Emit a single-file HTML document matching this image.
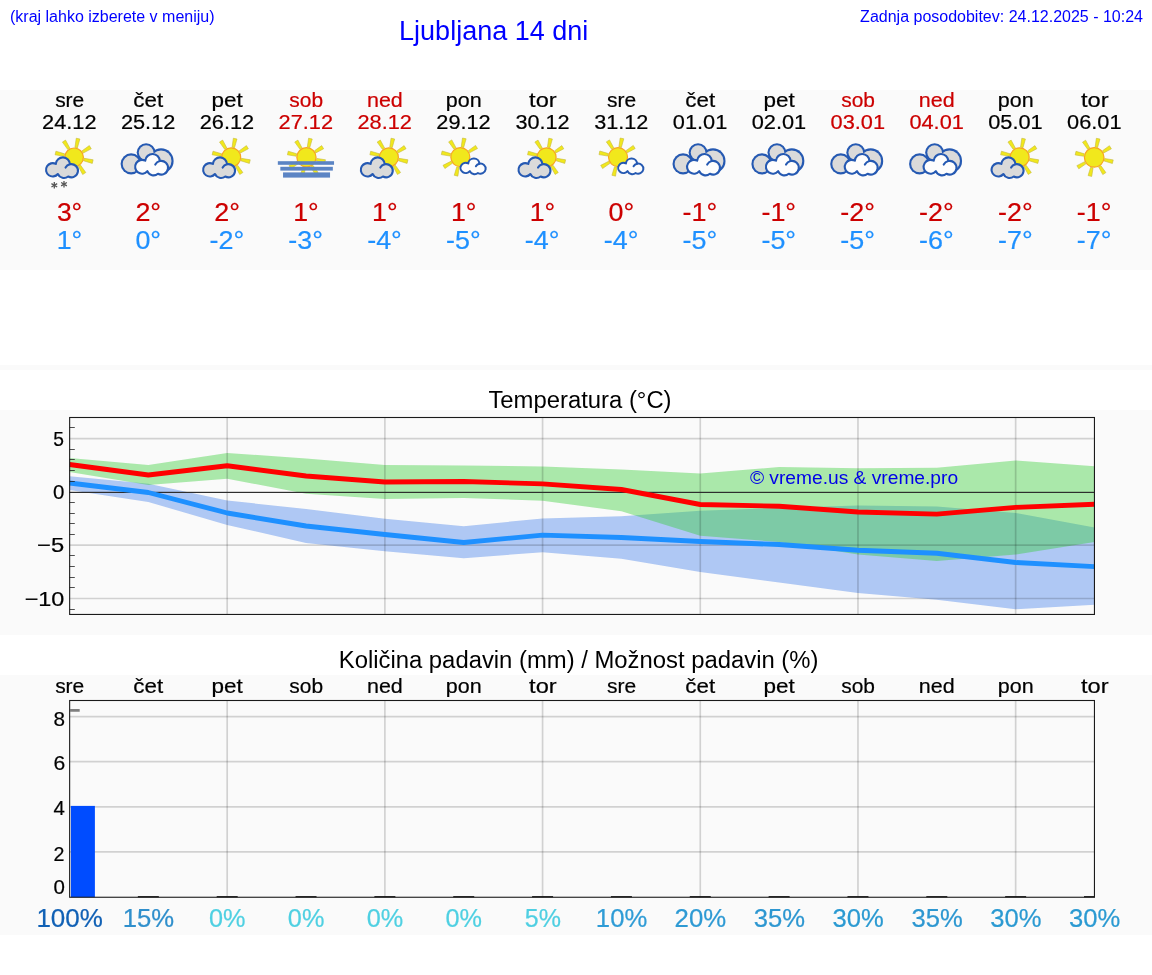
<!DOCTYPE html>
<html><head><meta charset="utf-8"><title>Ljubljana 14 dni</title>
<style>
html,body{margin:0;padding:0;background:#fff;}
body{width:1152px;height:975px;position:relative;overflow:hidden;font-family:"Liberation Sans",sans-serif;}
.h{position:absolute;color:#0000ff;white-space:nowrap;font-size:16px;line-height:18px;}
#t{position:absolute;left:393.7px;width:200px;top:15.5px;text-align:center;color:#0000ff;font-size:27px;line-height:31px;white-space:nowrap;}
svg{position:absolute;left:0;top:0;}
#w{position:absolute;left:0;top:0;width:1152px;height:975px;will-change:transform;}
</style></head><body><div id="w">
<svg width="1152" height="975" viewBox="0 0 1152 975">
<rect x="0" y="90" width="1152" height="180" fill="#fafafa"/>
<rect x="0" y="365" width="1152" height="5" fill="#fafafa"/>
<rect x="0" y="410" width="1152" height="225" fill="#fafafa"/>
<rect x="0" y="675" width="1152" height="260" fill="#fafafa"/>
<text x="0" y="0" transform="translate(69.69,107.00) scale(1.0778,1.0550)" font-family="'Liberation Sans', sans-serif" font-size="19.44" fill="#000" stroke="#000" stroke-width="0.2" text-anchor="middle">sre</text>
<text x="0" y="0" transform="translate(69.27,129.20) scale(1.1185,1.0584)" font-family="'Liberation Sans', sans-serif" font-size="19.44" fill="#000" stroke="#000" stroke-width="0.2" text-anchor="middle">24.12</text>
<polygon points="77.38,147.88 79.88,139.00 76.26,138.23 74.94,147.36" fill="#f1e81c" stroke="#c4b83c" stroke-width="0.6" stroke-linejoin="round"/><polygon points="83.16,153.11 91.28,148.75 89.32,145.61 81.83,150.99" fill="#f1e81c" stroke="#c4b83c" stroke-width="0.6" stroke-linejoin="round"/><polygon points="83.47,160.74 92.29,163.40 93.13,159.79 84.03,158.31" fill="#f1e81c" stroke="#c4b83c" stroke-width="0.6" stroke-linejoin="round"/><polygon points="78.29,166.36 82.65,174.48 85.79,172.52 80.41,165.03" fill="#f1e81c" stroke="#c4b83c" stroke-width="0.6" stroke-linejoin="round"/><polygon points="64.73,153.86 55.91,151.20 55.07,154.81 64.17,156.29" fill="#f1e81c" stroke="#c4b83c" stroke-width="0.6" stroke-linejoin="round"/><polygon points="69.91,148.24 65.55,140.12 62.41,142.08 67.79,149.57" fill="#f1e81c" stroke="#c4b83c" stroke-width="0.6" stroke-linejoin="round"/><circle cx="74.10" cy="157.30" r="9.3" fill="#f1e81c" stroke="#f7a620" stroke-width="1.2"/><path d="M57.87,174.00 A6.67,6.67 0 1 1 55.82,163.92 A7.08,7.08 0 0 1 69.96,164.27 A6.60,6.60 0 1 1 68.16,176.47 A6.60,6.60 0 0 1 57.87,174.00 Z" fill="#dadada" stroke="#2559b2" stroke-width="2.1" stroke-linejoin="round"/><path d="M69.96,164.27 A6.60,6.60 0 0 0 65.55,167.61" fill="none" stroke="#2559b2" stroke-width="2.1" stroke-linecap="round"/><line x1="54.30" y1="182.00" x2="54.30" y2="188.60" stroke="#555" stroke-width="1.3"/><line x1="51.44" y1="183.65" x2="57.16" y2="186.95" stroke="#555" stroke-width="1.3"/><line x1="57.16" y1="183.65" x2="51.44" y2="186.95" stroke="#555" stroke-width="1.3"/><line x1="64.00" y1="180.90" x2="64.00" y2="187.50" stroke="#555" stroke-width="1.3"/><line x1="61.14" y1="182.55" x2="66.86" y2="185.85" stroke="#555" stroke-width="1.3"/><line x1="66.86" y1="182.55" x2="61.14" y2="185.85" stroke="#555" stroke-width="1.3"/>
<text x="0" y="0" transform="translate(69.55,220.80) scale(1.1219,1.0542)" font-family="'Liberation Sans', sans-serif" font-size="23.61" fill="#cc0000" stroke="#cc0000" stroke-width="0.2" text-anchor="middle">3°</text>
<text x="0" y="0" transform="translate(69.44,249.00) scale(1.1326,1.0606)" font-family="'Liberation Sans', sans-serif" font-size="23.61" fill="#1e90ff" stroke="#1e90ff" stroke-width="0.2" text-anchor="middle">1°</text>
<text x="0" y="0" transform="translate(148.23,107.00) scale(1.1525,1.0550)" font-family="'Liberation Sans', sans-serif" font-size="19.44" fill="#000" stroke="#000" stroke-width="0.2" text-anchor="middle">čet</text>
<text x="0" y="0" transform="translate(148.12,129.20) scale(1.1185,1.0584)" font-family="'Liberation Sans', sans-serif" font-size="19.44" fill="#000" stroke="#000" stroke-width="0.2" text-anchor="middle">25.12</text>
<circle cx="131.15" cy="163.90" r="10.55" fill="#2559b2"/><circle cx="146.15" cy="152.60" r="9.45" fill="#2559b2"/><circle cx="161.05" cy="160.90" r="12.55" fill="#2559b2"/><circle cx="131.15" cy="163.90" r="8.45" fill="#dadada"/><circle cx="146.15" cy="152.60" r="7.35" fill="#dadada"/><circle cx="161.05" cy="160.90" r="10.45" fill="#dadada"/><circle cx="148.35" cy="163.30" r="8" fill="#dadada"/><path d="M147.35,171.18 A6.87,6.93 0 1 1 145.24,160.69 A7.30,7.37 0 0 1 159.80,161.05 A6.80,6.86 0 1 1 157.95,173.75 A6.80,6.86 0 0 1 147.35,171.18 Z" fill="#fdfdfd" stroke="#2559b2" stroke-width="2.1" stroke-linejoin="round"/><path d="M159.80,161.05 A6.80,6.86 0 0 0 155.26,164.54" fill="none" stroke="#2559b2" stroke-width="2.1" stroke-linecap="round"/>
<text x="0" y="0" transform="translate(148.23,220.80) scale(1.1386,1.0606)" font-family="'Liberation Sans', sans-serif" font-size="23.61" fill="#cc0000" stroke="#cc0000" stroke-width="0.2" text-anchor="middle">2°</text>
<text x="0" y="0" transform="translate(148.25,249.00) scale(1.1373,1.0667)" font-family="'Liberation Sans', sans-serif" font-size="23.61" fill="#1e90ff" stroke="#1e90ff" stroke-width="0.2" text-anchor="middle">0°</text>
<text x="0" y="0" transform="translate(227.19,107.00) scale(1.1585,1.0550)" font-family="'Liberation Sans', sans-serif" font-size="19.44" fill="#000" stroke="#000" stroke-width="0.2" text-anchor="middle">pet</text>
<text x="0" y="0" transform="translate(226.96,129.20) scale(1.1185,1.0584)" font-family="'Liberation Sans', sans-serif" font-size="19.44" fill="#000" stroke="#000" stroke-width="0.2" text-anchor="middle">26.12</text>
<polygon points="234.51,147.68 236.97,139.00 233.35,138.23 232.07,147.16" fill="#f1e81c" stroke="#c4b83c" stroke-width="0.6" stroke-linejoin="round"/><polygon points="240.42,153.01 248.37,148.75 246.41,145.61 239.10,150.89" fill="#f1e81c" stroke="#c4b83c" stroke-width="0.6" stroke-linejoin="round"/><polygon points="240.75,160.79 249.39,163.40 250.22,159.79 241.31,158.35" fill="#f1e81c" stroke="#c4b83c" stroke-width="0.6" stroke-linejoin="round"/><polygon points="235.48,166.53 239.74,174.48 242.88,172.52 237.60,165.20" fill="#f1e81c" stroke="#c4b83c" stroke-width="0.6" stroke-linejoin="round"/><polygon points="221.63,153.81 213.00,151.20 212.17,154.81 221.07,156.25" fill="#f1e81c" stroke="#c4b83c" stroke-width="0.6" stroke-linejoin="round"/><polygon points="226.90,148.07 222.64,140.12 219.50,142.08 224.78,149.40" fill="#f1e81c" stroke="#c4b83c" stroke-width="0.6" stroke-linejoin="round"/><circle cx="231.19" cy="157.30" r="9.5" fill="#f1e81c" stroke="#f7a620" stroke-width="1.2"/><path d="M214.97,174.00 A6.67,6.67 0 1 1 212.91,163.92 A7.08,7.08 0 0 1 227.05,164.27 A6.60,6.60 0 1 1 225.25,176.47 A6.60,6.60 0 0 1 214.97,174.00 Z" fill="#dadada" stroke="#2559b2" stroke-width="2.1" stroke-linejoin="round"/><path d="M227.05,164.27 A6.60,6.60 0 0 0 222.64,167.61" fill="none" stroke="#2559b2" stroke-width="2.1" stroke-linecap="round"/>
<text x="0" y="0" transform="translate(227.08,220.80) scale(1.1386,1.0606)" font-family="'Liberation Sans', sans-serif" font-size="23.61" fill="#cc0000" stroke="#cc0000" stroke-width="0.2" text-anchor="middle">2°</text>
<text x="0" y="0" transform="translate(226.83,249.00) scale(1.1405,1.0606)" font-family="'Liberation Sans', sans-serif" font-size="23.61" fill="#1e90ff" stroke="#1e90ff" stroke-width="0.2" text-anchor="middle">-2°</text>
<text x="0" y="0" transform="translate(306.19,107.00) scale(1.0763,1.0550)" font-family="'Liberation Sans', sans-serif" font-size="19.44" fill="#cc0000" stroke="#cc0000" stroke-width="0.2" text-anchor="middle">sob</text>
<text x="0" y="0" transform="translate(305.81,129.20) scale(1.1185,1.0584)" font-family="'Liberation Sans', sans-serif" font-size="19.44" fill="#cc0000" stroke="#cc0000" stroke-width="0.2" text-anchor="middle">27.12</text>
<polygon points="309.78,147.58 312.22,139.00 308.60,138.23 307.34,147.06" fill="#f1e81c" stroke="#c4b83c" stroke-width="0.6" stroke-linejoin="round"/><polygon points="315.75,152.95 323.62,148.75 321.66,145.61 314.43,150.83" fill="#f1e81c" stroke="#c4b83c" stroke-width="0.6" stroke-linejoin="round"/><polygon points="316.10,160.81 324.63,163.40 325.47,159.79 316.66,158.38" fill="#f1e81c" stroke="#c4b83c" stroke-width="0.6" stroke-linejoin="round"/><polygon points="310.78,166.61 314.99,174.48 318.13,172.52 312.90,165.29" fill="#f1e81c" stroke="#c4b83c" stroke-width="0.6" stroke-linejoin="round"/><polygon points="302.93,166.96 300.34,175.49 303.94,176.33 305.36,167.52" fill="#f1e81c" stroke="#c4b83c" stroke-width="0.6" stroke-linejoin="round"/><polygon points="297.05,161.48 289.11,165.55 291.02,168.72 298.34,163.62" fill="#f1e81c" stroke="#c4b83c" stroke-width="0.6" stroke-linejoin="round"/><polygon points="296.78,153.79 288.24,151.20 287.41,154.81 296.22,156.22" fill="#f1e81c" stroke="#c4b83c" stroke-width="0.6" stroke-linejoin="round"/><polygon points="302.09,147.99 297.89,140.12 294.75,142.08 299.97,149.31" fill="#f1e81c" stroke="#c4b83c" stroke-width="0.6" stroke-linejoin="round"/><circle cx="306.44" cy="157.30" r="9.6" fill="#f1e81c" stroke="#f7a620" stroke-width="1.2"/><rect x="277.84" y="161.2" width="56.2" height="3.6" fill="#5b84c4"/><rect x="280.34" y="166.8" width="52.5" height="3.8" fill="#5b84c4"/><rect x="283.04" y="172.4" width="47.0" height="5.2" fill="#5b84c4"/>
<text x="0" y="0" transform="translate(305.98,220.80) scale(1.1326,1.0606)" font-family="'Liberation Sans', sans-serif" font-size="23.61" fill="#cc0000" stroke="#cc0000" stroke-width="0.2" text-anchor="middle">1°</text>
<text x="0" y="0" transform="translate(305.68,249.00) scale(1.1405,1.0542)" font-family="'Liberation Sans', sans-serif" font-size="23.61" fill="#1e90ff" stroke="#1e90ff" stroke-width="0.2" text-anchor="middle">-3°</text>
<text x="0" y="0" transform="translate(384.87,107.00) scale(1.1052,1.0550)" font-family="'Liberation Sans', sans-serif" font-size="19.44" fill="#cc0000" stroke="#cc0000" stroke-width="0.2" text-anchor="middle">ned</text>
<text x="0" y="0" transform="translate(384.66,129.20) scale(1.1185,1.0584)" font-family="'Liberation Sans', sans-serif" font-size="19.44" fill="#cc0000" stroke="#cc0000" stroke-width="0.2" text-anchor="middle">28.12</text>
<polygon points="392.21,147.68 394.67,139.00 391.05,138.23 389.76,147.16" fill="#f1e81c" stroke="#c4b83c" stroke-width="0.6" stroke-linejoin="round"/><polygon points="398.11,153.01 406.06,148.75 404.10,145.61 396.79,150.89" fill="#f1e81c" stroke="#c4b83c" stroke-width="0.6" stroke-linejoin="round"/><polygon points="398.44,160.79 407.08,163.40 407.91,159.79 399.01,158.35" fill="#f1e81c" stroke="#c4b83c" stroke-width="0.6" stroke-linejoin="round"/><polygon points="393.18,166.53 397.44,174.48 400.57,172.52 395.30,165.20" fill="#f1e81c" stroke="#c4b83c" stroke-width="0.6" stroke-linejoin="round"/><polygon points="379.32,153.81 370.69,151.20 369.86,154.81 378.76,156.25" fill="#f1e81c" stroke="#c4b83c" stroke-width="0.6" stroke-linejoin="round"/><polygon points="384.59,148.07 380.33,140.12 377.19,142.08 382.47,149.40" fill="#f1e81c" stroke="#c4b83c" stroke-width="0.6" stroke-linejoin="round"/><circle cx="388.88" cy="157.30" r="9.5" fill="#f1e81c" stroke="#f7a620" stroke-width="1.2"/><path d="M372.66,174.00 A6.67,6.67 0 1 1 370.60,163.92 A7.08,7.08 0 0 1 384.74,164.27 A6.60,6.60 0 1 1 382.95,176.47 A6.60,6.60 0 0 1 372.66,174.00 Z" fill="#dadada" stroke="#2559b2" stroke-width="2.1" stroke-linejoin="round"/><path d="M384.74,164.27 A6.60,6.60 0 0 0 380.33,167.61" fill="none" stroke="#2559b2" stroke-width="2.1" stroke-linecap="round"/>
<text x="0" y="0" transform="translate(384.83,220.80) scale(1.1326,1.0606)" font-family="'Liberation Sans', sans-serif" font-size="23.61" fill="#cc0000" stroke="#cc0000" stroke-width="0.2" text-anchor="middle">1°</text>
<text x="0" y="0" transform="translate(384.53,249.00) scale(1.1405,1.0606)" font-family="'Liberation Sans', sans-serif" font-size="23.61" fill="#1e90ff" stroke="#1e90ff" stroke-width="0.2" text-anchor="middle">-4°</text>
<text x="0" y="0" transform="translate(463.78,107.00) scale(1.1069,1.0550)" font-family="'Liberation Sans', sans-serif" font-size="19.44" fill="#000" stroke="#000" stroke-width="0.2" text-anchor="middle">pon</text>
<text x="0" y="0" transform="translate(463.50,129.20) scale(1.1185,1.0584)" font-family="'Liberation Sans', sans-serif" font-size="19.44" fill="#000" stroke="#000" stroke-width="0.2" text-anchor="middle">29.12</text>
<polygon points="463.65,147.48 466.11,138.80 462.49,138.03 461.21,146.96" fill="#f1e81c" stroke="#c4b83c" stroke-width="0.6" stroke-linejoin="round"/><polygon points="469.56,152.81 477.51,148.55 475.55,145.41 468.23,150.69" fill="#f1e81c" stroke="#c4b83c" stroke-width="0.6" stroke-linejoin="round"/><polygon points="456.84,166.66 454.23,175.29 457.84,176.13 459.28,167.22" fill="#f1e81c" stroke="#c4b83c" stroke-width="0.6" stroke-linejoin="round"/><polygon points="451.03,161.23 443.01,165.35 444.91,168.52 452.32,163.37" fill="#f1e81c" stroke="#c4b83c" stroke-width="0.6" stroke-linejoin="round"/><polygon points="450.77,153.61 442.14,151.00 441.30,154.61 450.21,156.05" fill="#f1e81c" stroke="#c4b83c" stroke-width="0.6" stroke-linejoin="round"/><polygon points="456.04,147.87 451.78,139.92 448.64,141.88 453.92,149.20" fill="#f1e81c" stroke="#c4b83c" stroke-width="0.6" stroke-linejoin="round"/><circle cx="460.33" cy="157.10" r="9.5" fill="#f1e81c" stroke="#f7a620" stroke-width="1.2"/><path d="M469.85,171.13 A5.25,5.07 0 1 1 468.23,163.46 A5.58,5.39 0 0 1 479.37,163.72 A5.20,5.02 0 1 1 477.95,173.01 A5.20,5.02 0 0 1 469.85,171.13 Z" fill="#fdfdfd" stroke="#2559b2" stroke-width="2.0" stroke-linejoin="round"/><path d="M479.37,163.72 A5.20,5.02 0 0 0 475.89,166.27" fill="none" stroke="#2559b2" stroke-width="2.0" stroke-linecap="round"/>
<text x="0" y="0" transform="translate(463.68,220.80) scale(1.1326,1.0606)" font-family="'Liberation Sans', sans-serif" font-size="23.61" fill="#cc0000" stroke="#cc0000" stroke-width="0.2" text-anchor="middle">1°</text>
<text x="0" y="0" transform="translate(463.37,249.00) scale(1.1405,1.0606)" font-family="'Liberation Sans', sans-serif" font-size="23.61" fill="#1e90ff" stroke="#1e90ff" stroke-width="0.2" text-anchor="middle">-5°</text>
<text x="0" y="0" transform="translate(542.88,107.00) scale(1.2162,1.0550)" font-family="'Liberation Sans', sans-serif" font-size="19.44" fill="#000" stroke="#000" stroke-width="0.2" text-anchor="middle">tor</text>
<text x="0" y="0" transform="translate(542.46,129.20) scale(1.1137,1.0584)" font-family="'Liberation Sans', sans-serif" font-size="19.44" fill="#000" stroke="#000" stroke-width="0.2" text-anchor="middle">30.12</text>
<polygon points="549.90,147.68 552.36,139.00 548.74,138.23 547.45,147.16" fill="#f1e81c" stroke="#c4b83c" stroke-width="0.6" stroke-linejoin="round"/><polygon points="555.80,153.01 563.75,148.75 561.79,145.61 554.48,150.89" fill="#f1e81c" stroke="#c4b83c" stroke-width="0.6" stroke-linejoin="round"/><polygon points="556.14,160.79 564.77,163.40 565.60,159.79 556.70,158.35" fill="#f1e81c" stroke="#c4b83c" stroke-width="0.6" stroke-linejoin="round"/><polygon points="550.87,166.53 555.13,174.48 558.27,172.52 552.99,165.20" fill="#f1e81c" stroke="#c4b83c" stroke-width="0.6" stroke-linejoin="round"/><polygon points="537.02,153.81 528.38,151.20 527.55,154.81 536.45,156.25" fill="#f1e81c" stroke="#c4b83c" stroke-width="0.6" stroke-linejoin="round"/><polygon points="542.28,148.07 538.02,140.12 534.89,142.08 540.16,149.40" fill="#f1e81c" stroke="#c4b83c" stroke-width="0.6" stroke-linejoin="round"/><circle cx="546.58" cy="157.30" r="9.5" fill="#f1e81c" stroke="#f7a620" stroke-width="1.2"/><path d="M530.35,174.00 A6.67,6.67 0 1 1 528.30,163.92 A7.08,7.08 0 0 1 542.44,164.27 A6.60,6.60 0 1 1 540.64,176.47 A6.60,6.60 0 0 1 530.35,174.00 Z" fill="#dadada" stroke="#2559b2" stroke-width="2.1" stroke-linejoin="round"/><path d="M542.44,164.27 A6.60,6.60 0 0 0 538.02,167.61" fill="none" stroke="#2559b2" stroke-width="2.1" stroke-linecap="round"/>
<text x="0" y="0" transform="translate(542.52,220.80) scale(1.1326,1.0606)" font-family="'Liberation Sans', sans-serif" font-size="23.61" fill="#cc0000" stroke="#cc0000" stroke-width="0.2" text-anchor="middle">1°</text>
<text x="0" y="0" transform="translate(542.22,249.00) scale(1.1405,1.0606)" font-family="'Liberation Sans', sans-serif" font-size="23.61" fill="#1e90ff" stroke="#1e90ff" stroke-width="0.2" text-anchor="middle">-4°</text>
<text x="0" y="0" transform="translate(621.61,107.00) scale(1.0778,1.0550)" font-family="'Liberation Sans', sans-serif" font-size="19.44" fill="#000" stroke="#000" stroke-width="0.2" text-anchor="middle">sre</text>
<text x="0" y="0" transform="translate(621.31,129.20) scale(1.1137,1.0584)" font-family="'Liberation Sans', sans-serif" font-size="19.44" fill="#000" stroke="#000" stroke-width="0.2" text-anchor="middle">31.12</text>
<polygon points="621.35,147.48 623.80,138.80 620.18,138.03 618.90,146.96" fill="#f1e81c" stroke="#c4b83c" stroke-width="0.6" stroke-linejoin="round"/><polygon points="627.25,152.81 635.20,148.55 633.24,145.41 625.93,150.69" fill="#f1e81c" stroke="#c4b83c" stroke-width="0.6" stroke-linejoin="round"/><polygon points="614.53,166.66 611.92,175.29 615.53,176.13 616.97,167.22" fill="#f1e81c" stroke="#c4b83c" stroke-width="0.6" stroke-linejoin="round"/><polygon points="608.72,161.23 600.70,165.35 602.60,168.52 610.01,163.37" fill="#f1e81c" stroke="#c4b83c" stroke-width="0.6" stroke-linejoin="round"/><polygon points="608.46,153.61 599.83,151.00 599.00,154.61 607.90,156.05" fill="#f1e81c" stroke="#c4b83c" stroke-width="0.6" stroke-linejoin="round"/><polygon points="613.73,147.87 609.47,139.92 606.33,141.88 611.61,149.20" fill="#f1e81c" stroke="#c4b83c" stroke-width="0.6" stroke-linejoin="round"/><circle cx="618.02" cy="157.10" r="9.5" fill="#f1e81c" stroke="#f7a620" stroke-width="1.2"/><path d="M627.54,171.13 A5.25,5.07 0 1 1 625.92,163.46 A5.58,5.39 0 0 1 637.06,163.72 A5.20,5.02 0 1 1 635.65,173.01 A5.20,5.02 0 0 1 627.54,171.13 Z" fill="#fdfdfd" stroke="#2559b2" stroke-width="2.0" stroke-linejoin="round"/><path d="M637.06,163.72 A5.20,5.02 0 0 0 633.58,166.27" fill="none" stroke="#2559b2" stroke-width="2.0" stroke-linecap="round"/>
<text x="0" y="0" transform="translate(621.32,220.80) scale(1.1373,1.0667)" font-family="'Liberation Sans', sans-serif" font-size="23.61" fill="#cc0000" stroke="#cc0000" stroke-width="0.2" text-anchor="middle">0°</text>
<text x="0" y="0" transform="translate(621.07,249.00) scale(1.1405,1.0606)" font-family="'Liberation Sans', sans-serif" font-size="23.61" fill="#1e90ff" stroke="#1e90ff" stroke-width="0.2" text-anchor="middle">-4°</text>
<text x="0" y="0" transform="translate(700.16,107.00) scale(1.1525,1.0550)" font-family="'Liberation Sans', sans-serif" font-size="19.44" fill="#000" stroke="#000" stroke-width="0.2" text-anchor="middle">čet</text>
<text x="0" y="0" transform="translate(700.10,129.20) scale(1.1201,1.0662)" font-family="'Liberation Sans', sans-serif" font-size="19.44" fill="#000" stroke="#000" stroke-width="0.2" text-anchor="middle">01.01</text>
<circle cx="683.07" cy="163.90" r="10.55" fill="#2559b2"/><circle cx="698.07" cy="152.60" r="9.45" fill="#2559b2"/><circle cx="712.97" cy="160.90" r="12.55" fill="#2559b2"/><circle cx="683.07" cy="163.90" r="8.45" fill="#dadada"/><circle cx="698.07" cy="152.60" r="7.35" fill="#dadada"/><circle cx="712.97" cy="160.90" r="10.45" fill="#dadada"/><circle cx="700.27" cy="163.30" r="8" fill="#dadada"/><path d="M699.28,171.18 A6.87,6.93 0 1 1 697.16,160.69 A7.30,7.37 0 0 1 711.72,161.05 A6.80,6.86 0 1 1 709.87,173.75 A6.80,6.86 0 0 1 699.28,171.18 Z" fill="#fdfdfd" stroke="#2559b2" stroke-width="2.1" stroke-linejoin="round"/><path d="M711.72,161.05 A6.80,6.86 0 0 0 707.18,164.54" fill="none" stroke="#2559b2" stroke-width="2.1" stroke-linecap="round"/>
<text x="0" y="0" transform="translate(699.91,220.80) scale(1.1405,1.0606)" font-family="'Liberation Sans', sans-serif" font-size="23.61" fill="#cc0000" stroke="#cc0000" stroke-width="0.2" text-anchor="middle">-1°</text>
<text x="0" y="0" transform="translate(699.91,249.00) scale(1.1405,1.0606)" font-family="'Liberation Sans', sans-serif" font-size="23.61" fill="#1e90ff" stroke="#1e90ff" stroke-width="0.2" text-anchor="middle">-5°</text>
<text x="0" y="0" transform="translate(779.12,107.00) scale(1.1585,1.0550)" font-family="'Liberation Sans', sans-serif" font-size="19.44" fill="#000" stroke="#000" stroke-width="0.2" text-anchor="middle">pet</text>
<text x="0" y="0" transform="translate(778.95,129.20) scale(1.1201,1.0584)" font-family="'Liberation Sans', sans-serif" font-size="19.44" fill="#000" stroke="#000" stroke-width="0.2" text-anchor="middle">02.01</text>
<circle cx="761.92" cy="163.90" r="10.55" fill="#2559b2"/><circle cx="776.92" cy="152.60" r="9.45" fill="#2559b2"/><circle cx="791.82" cy="160.90" r="12.55" fill="#2559b2"/><circle cx="761.92" cy="163.90" r="8.45" fill="#dadada"/><circle cx="776.92" cy="152.60" r="7.35" fill="#dadada"/><circle cx="791.82" cy="160.90" r="10.45" fill="#dadada"/><circle cx="779.12" cy="163.30" r="8" fill="#dadada"/><path d="M778.12,171.18 A6.87,6.93 0 1 1 776.01,160.69 A7.30,7.37 0 0 1 790.57,161.05 A6.80,6.86 0 1 1 788.72,173.75 A6.80,6.86 0 0 1 778.12,171.18 Z" fill="#fdfdfd" stroke="#2559b2" stroke-width="2.1" stroke-linejoin="round"/><path d="M790.57,161.05 A6.80,6.86 0 0 0 786.02,164.54" fill="none" stroke="#2559b2" stroke-width="2.1" stroke-linecap="round"/>
<text x="0" y="0" transform="translate(778.76,220.80) scale(1.1405,1.0606)" font-family="'Liberation Sans', sans-serif" font-size="23.61" fill="#cc0000" stroke="#cc0000" stroke-width="0.2" text-anchor="middle">-1°</text>
<text x="0" y="0" transform="translate(778.76,249.00) scale(1.1405,1.0606)" font-family="'Liberation Sans', sans-serif" font-size="23.61" fill="#1e90ff" stroke="#1e90ff" stroke-width="0.2" text-anchor="middle">-5°</text>
<text x="0" y="0" transform="translate(858.11,107.00) scale(1.0763,1.0550)" font-family="'Liberation Sans', sans-serif" font-size="19.44" fill="#cc0000" stroke="#cc0000" stroke-width="0.2" text-anchor="middle">sob</text>
<text x="0" y="0" transform="translate(857.80,129.20) scale(1.1201,1.0584)" font-family="'Liberation Sans', sans-serif" font-size="19.44" fill="#cc0000" stroke="#cc0000" stroke-width="0.2" text-anchor="middle">03.01</text>
<circle cx="840.76" cy="163.90" r="10.55" fill="#2559b2"/><circle cx="855.76" cy="152.60" r="9.45" fill="#2559b2"/><circle cx="870.66" cy="160.90" r="12.55" fill="#2559b2"/><circle cx="840.76" cy="163.90" r="8.45" fill="#dadada"/><circle cx="855.76" cy="152.60" r="7.35" fill="#dadada"/><circle cx="870.66" cy="160.90" r="10.45" fill="#dadada"/><circle cx="857.96" cy="163.30" r="8" fill="#dadada"/><path d="M856.97,171.18 A6.87,6.93 0 1 1 854.85,160.69 A7.30,7.37 0 0 1 869.42,161.05 A6.80,6.86 0 1 1 867.57,173.75 A6.80,6.86 0 0 1 856.97,171.18 Z" fill="#fdfdfd" stroke="#2559b2" stroke-width="2.1" stroke-linejoin="round"/><path d="M869.42,161.05 A6.80,6.86 0 0 0 864.87,164.54" fill="none" stroke="#2559b2" stroke-width="2.1" stroke-linecap="round"/>
<text x="0" y="0" transform="translate(857.60,220.80) scale(1.1405,1.0606)" font-family="'Liberation Sans', sans-serif" font-size="23.61" fill="#cc0000" stroke="#cc0000" stroke-width="0.2" text-anchor="middle">-2°</text>
<text x="0" y="0" transform="translate(857.60,249.00) scale(1.1405,1.0606)" font-family="'Liberation Sans', sans-serif" font-size="23.61" fill="#1e90ff" stroke="#1e90ff" stroke-width="0.2" text-anchor="middle">-5°</text>
<text x="0" y="0" transform="translate(936.79,107.00) scale(1.1052,1.0550)" font-family="'Liberation Sans', sans-serif" font-size="19.44" fill="#cc0000" stroke="#cc0000" stroke-width="0.2" text-anchor="middle">ned</text>
<text x="0" y="0" transform="translate(936.64,129.20) scale(1.1201,1.0662)" font-family="'Liberation Sans', sans-serif" font-size="19.44" fill="#cc0000" stroke="#cc0000" stroke-width="0.2" text-anchor="middle">04.01</text>
<circle cx="919.61" cy="163.90" r="10.55" fill="#2559b2"/><circle cx="934.61" cy="152.60" r="9.45" fill="#2559b2"/><circle cx="949.51" cy="160.90" r="12.55" fill="#2559b2"/><circle cx="919.61" cy="163.90" r="8.45" fill="#dadada"/><circle cx="934.61" cy="152.60" r="7.35" fill="#dadada"/><circle cx="949.51" cy="160.90" r="10.45" fill="#dadada"/><circle cx="936.81" cy="163.30" r="8" fill="#dadada"/><path d="M935.82,171.18 A6.87,6.93 0 1 1 933.70,160.69 A7.30,7.37 0 0 1 948.26,161.05 A6.80,6.86 0 1 1 946.41,173.75 A6.80,6.86 0 0 1 935.82,171.18 Z" fill="#fdfdfd" stroke="#2559b2" stroke-width="2.1" stroke-linejoin="round"/><path d="M948.26,161.05 A6.80,6.86 0 0 0 943.72,164.54" fill="none" stroke="#2559b2" stroke-width="2.1" stroke-linecap="round"/>
<text x="0" y="0" transform="translate(936.45,220.80) scale(1.1405,1.0606)" font-family="'Liberation Sans', sans-serif" font-size="23.61" fill="#cc0000" stroke="#cc0000" stroke-width="0.2" text-anchor="middle">-2°</text>
<text x="0" y="0" transform="translate(936.45,249.00) scale(1.1405,1.0606)" font-family="'Liberation Sans', sans-serif" font-size="23.61" fill="#1e90ff" stroke="#1e90ff" stroke-width="0.2" text-anchor="middle">-6°</text>
<text x="0" y="0" transform="translate(1015.70,107.00) scale(1.1069,1.0550)" font-family="'Liberation Sans', sans-serif" font-size="19.44" fill="#000" stroke="#000" stroke-width="0.2" text-anchor="middle">pon</text>
<text x="0" y="0" transform="translate(1015.49,129.20) scale(1.1201,1.0662)" font-family="'Liberation Sans', sans-serif" font-size="19.44" fill="#000" stroke="#000" stroke-width="0.2" text-anchor="middle">05.01</text>
<polygon points="1022.98,147.68 1025.43,139.00 1021.82,138.23 1020.53,147.16" fill="#f1e81c" stroke="#c4b83c" stroke-width="0.6" stroke-linejoin="round"/><polygon points="1028.88,153.01 1036.83,148.75 1034.87,145.61 1027.56,150.89" fill="#f1e81c" stroke="#c4b83c" stroke-width="0.6" stroke-linejoin="round"/><polygon points="1029.21,160.79 1037.85,163.40 1038.68,159.79 1029.78,158.35" fill="#f1e81c" stroke="#c4b83c" stroke-width="0.6" stroke-linejoin="round"/><polygon points="1023.95,166.53 1028.21,174.48 1031.34,172.52 1026.07,165.20" fill="#f1e81c" stroke="#c4b83c" stroke-width="0.6" stroke-linejoin="round"/><polygon points="1010.09,153.81 1001.46,151.20 1000.63,154.81 1009.53,156.25" fill="#f1e81c" stroke="#c4b83c" stroke-width="0.6" stroke-linejoin="round"/><polygon points="1015.36,148.07 1011.10,140.12 1007.96,142.08 1013.24,149.40" fill="#f1e81c" stroke="#c4b83c" stroke-width="0.6" stroke-linejoin="round"/><circle cx="1019.65" cy="157.30" r="9.5" fill="#f1e81c" stroke="#f7a620" stroke-width="1.2"/><path d="M1003.43,174.00 A6.67,6.67 0 1 1 1001.37,163.92 A7.08,7.08 0 0 1 1015.51,164.27 A6.60,6.60 0 1 1 1013.72,176.47 A6.60,6.60 0 0 1 1003.43,174.00 Z" fill="#dadada" stroke="#2559b2" stroke-width="2.1" stroke-linejoin="round"/><path d="M1015.51,164.27 A6.60,6.60 0 0 0 1011.10,167.61" fill="none" stroke="#2559b2" stroke-width="2.1" stroke-linecap="round"/>
<text x="0" y="0" transform="translate(1015.30,220.80) scale(1.1405,1.0606)" font-family="'Liberation Sans', sans-serif" font-size="23.61" fill="#cc0000" stroke="#cc0000" stroke-width="0.2" text-anchor="middle">-2°</text>
<text x="0" y="0" transform="translate(1015.30,249.00) scale(1.1405,1.0606)" font-family="'Liberation Sans', sans-serif" font-size="23.61" fill="#1e90ff" stroke="#1e90ff" stroke-width="0.2" text-anchor="middle">-7°</text>
<text x="0" y="0" transform="translate(1094.80,107.00) scale(1.2162,1.0550)" font-family="'Liberation Sans', sans-serif" font-size="19.44" fill="#000" stroke="#000" stroke-width="0.2" text-anchor="middle">tor</text>
<text x="0" y="0" transform="translate(1094.33,129.20) scale(1.1201,1.0662)" font-family="'Liberation Sans', sans-serif" font-size="19.44" fill="#000" stroke="#000" stroke-width="0.2" text-anchor="middle">06.01</text>
<polygon points="1097.58,147.49 1099.98,139.10 1096.36,138.33 1095.14,146.97" fill="#f1e81c" stroke="#c4b83c" stroke-width="0.6" stroke-linejoin="round"/><polygon points="1103.68,152.95 1111.38,148.85 1109.42,145.71 1102.36,150.83" fill="#f1e81c" stroke="#c4b83c" stroke-width="0.6" stroke-linejoin="round"/><polygon points="1104.05,160.96 1112.39,163.50 1113.23,159.89 1104.61,158.52" fill="#f1e81c" stroke="#c4b83c" stroke-width="0.6" stroke-linejoin="round"/><polygon points="1098.65,166.88 1102.75,174.58 1105.89,172.62 1100.77,165.56" fill="#f1e81c" stroke="#c4b83c" stroke-width="0.6" stroke-linejoin="round"/><polygon points="1090.64,167.25 1088.10,175.59 1091.71,176.43 1093.08,167.81" fill="#f1e81c" stroke="#c4b83c" stroke-width="0.6" stroke-linejoin="round"/><polygon points="1084.64,161.68 1076.88,165.65 1078.78,168.82 1085.93,163.83" fill="#f1e81c" stroke="#c4b83c" stroke-width="0.6" stroke-linejoin="round"/><polygon points="1084.35,153.84 1076.01,151.30 1075.17,154.91 1083.79,156.28" fill="#f1e81c" stroke="#c4b83c" stroke-width="0.6" stroke-linejoin="round"/><polygon points="1089.75,147.92 1085.65,140.22 1082.51,142.18 1087.63,149.24" fill="#f1e81c" stroke="#c4b83c" stroke-width="0.6" stroke-linejoin="round"/><circle cx="1094.20" cy="157.40" r="9.8" fill="#f1e81c" stroke="#f7a620" stroke-width="1.2"/>
<text x="0" y="0" transform="translate(1094.14,220.80) scale(1.1405,1.0606)" font-family="'Liberation Sans', sans-serif" font-size="23.61" fill="#cc0000" stroke="#cc0000" stroke-width="0.2" text-anchor="middle">-1°</text>
<text x="0" y="0" transform="translate(1094.14,249.00) scale(1.1405,1.0606)" font-family="'Liberation Sans', sans-serif" font-size="23.61" fill="#1e90ff" stroke="#1e90ff" stroke-width="0.2" text-anchor="middle">-7°</text>
<text x="580.00" y="407.50" font-family="'Liberation Sans', sans-serif" font-size="23.85" fill="#000" text-anchor="middle">Temperatura (°C)</text>
<clipPath id="c1"><rect x="69.5" y="417.5" width="1025.0" height="196.95000000000005"/></clipPath>
<g clip-path="url(#c1)">
<polygon points="69.50,476.25 148.35,483.75 227.19,500.50 306.04,509.00 384.88,518.75 463.73,526.25 542.58,518.40 621.42,516.25 700.27,510.75 779.12,508.00 857.96,505.60 936.81,506.50 1015.65,513.00 1094.50,527.50 1094.50,604.80 1015.65,609.20 936.81,599.80 857.96,593.10 779.12,582.50 700.27,572.00 621.42,558.75 542.58,552.20 463.73,558.25 384.88,551.25 306.04,543.00 227.19,525.00 148.35,502.00 69.50,490.00" fill="#6495ed" fill-opacity="0.5"/>
<polygon points="69.50,458.00 148.35,465.00 227.19,453.00 306.04,458.50 384.88,465.00 463.73,465.50 542.58,466.50 621.42,469.50 700.27,473.50 779.12,467.00 857.96,468.30 936.81,467.70 1015.65,460.40 1094.50,466.25 1094.50,542.00 1015.65,554.60 936.81,561.00 857.96,554.60 779.12,542.00 700.27,535.75 621.42,511.25 542.58,500.75 463.73,498.00 384.88,499.00 306.04,493.75 227.19,478.75 148.35,485.00 69.50,472.00" fill="#32cd32" fill-opacity="0.4"/>
</g>
<line x1="69.5" x2="1094.5" y1="438.60" y2="438.60" stroke="#000" stroke-opacity="0.16" stroke-width="1.7"/>
<line x1="69.5" x2="1094.5" y1="491.90" y2="491.90" stroke="#000" stroke-opacity="0.16" stroke-width="1.7"/>
<line x1="69.5" x2="1094.5" y1="545.20" y2="545.20" stroke="#000" stroke-opacity="0.16" stroke-width="1.7"/>
<line x1="69.5" x2="1094.5" y1="598.50" y2="598.50" stroke="#000" stroke-opacity="0.16" stroke-width="1.7"/>
<line x1="227.19" x2="227.19" y1="417.5" y2="614.45" stroke="#000" stroke-opacity="0.16" stroke-width="1.7"/>
<line x1="384.88" x2="384.88" y1="417.5" y2="614.45" stroke="#000" stroke-opacity="0.16" stroke-width="1.7"/>
<line x1="542.58" x2="542.58" y1="417.5" y2="614.45" stroke="#000" stroke-opacity="0.16" stroke-width="1.7"/>
<line x1="700.27" x2="700.27" y1="417.5" y2="614.45" stroke="#000" stroke-opacity="0.16" stroke-width="1.7"/>
<line x1="857.96" x2="857.96" y1="417.5" y2="614.45" stroke="#000" stroke-opacity="0.16" stroke-width="1.7"/>
<line x1="1015.65" x2="1015.65" y1="417.5" y2="614.45" stroke="#000" stroke-opacity="0.16" stroke-width="1.7"/>
<line x1="69.5" x2="1094.5" y1="492.5" y2="492.5" stroke="#2e2e2e" stroke-width="1.05"/>
<g clip-path="url(#c1)">
<polyline points="69.50,483.00 148.35,492.50 227.19,513.00 306.04,526.00 384.88,534.50 463.73,542.50 542.58,535.10 621.42,537.50 700.27,541.50 779.12,544.50 857.96,550.25 936.81,553.20 1015.65,562.50 1094.50,566.60" fill="none" stroke="#1e90ff" stroke-width="4.9" stroke-linejoin="round"/>
<polyline points="69.50,464.50 148.35,475.00 227.19,465.75 306.04,476.00 384.88,482.00 463.73,481.50 542.58,483.90 621.42,489.50 700.27,504.50 779.12,506.25 857.96,512.00 936.81,514.10 1015.65,507.40 1094.50,504.20" fill="none" stroke="#ff0000" stroke-width="4.9" stroke-linejoin="round"/>
</g>
<line x1="69.5" x2="74.8" y1="609.50" y2="609.50" stroke="#222" stroke-width="0.8"/>
<line x1="69.5" x2="74.8" y1="587.50" y2="587.50" stroke="#222" stroke-width="0.8"/>
<line x1="69.5" x2="74.8" y1="577.50" y2="577.50" stroke="#222" stroke-width="0.8"/>
<line x1="69.5" x2="74.8" y1="566.50" y2="566.50" stroke="#222" stroke-width="0.8"/>
<line x1="69.5" x2="74.8" y1="555.50" y2="555.50" stroke="#222" stroke-width="0.8"/>
<line x1="69.5" x2="74.8" y1="534.50" y2="534.50" stroke="#222" stroke-width="0.8"/>
<line x1="69.5" x2="74.8" y1="523.50" y2="523.50" stroke="#222" stroke-width="0.8"/>
<line x1="69.5" x2="74.8" y1="513.50" y2="513.50" stroke="#222" stroke-width="0.8"/>
<line x1="69.5" x2="74.8" y1="502.50" y2="502.50" stroke="#222" stroke-width="0.8"/>
<line x1="69.5" x2="74.8" y1="481.50" y2="481.50" stroke="#222" stroke-width="0.8"/>
<line x1="69.5" x2="74.8" y1="470.50" y2="470.50" stroke="#222" stroke-width="0.8"/>
<line x1="69.5" x2="74.8" y1="459.50" y2="459.50" stroke="#222" stroke-width="0.8"/>
<line x1="69.5" x2="74.8" y1="449.50" y2="449.50" stroke="#222" stroke-width="0.8"/>
<line x1="69.5" x2="74.8" y1="427.50" y2="427.50" stroke="#222" stroke-width="0.8"/>
<rect x="69.65" y="417.5" width="1024.8" height="196.95000000000005" fill="none" stroke="#1a1a1a" stroke-width="1.1"/>
<text x="0" y="0" transform="translate(63.93,445.80) scale(0.9892,1.0597)" font-family="'Liberation Sans', sans-serif" font-size="19.44" fill="#000" stroke="#000" stroke-width="0.2" text-anchor="end">5</text>
<text x="0" y="0" transform="translate(64.28,499.10) scale(1.0532,1.0662)" font-family="'Liberation Sans', sans-serif" font-size="19.44" fill="#000" stroke="#000" stroke-width="0.2" text-anchor="end">0</text>
<text x="0" y="0" transform="translate(64.12,552.40) scale(1.2218,1.0597)" font-family="'Liberation Sans', sans-serif" font-size="19.44" fill="#000" stroke="#000" stroke-width="0.2" text-anchor="end">−5</text>
<text x="0" y="0" transform="translate(64.39,605.70) scale(1.2038,1.0662)" font-family="'Liberation Sans', sans-serif" font-size="19.44" fill="#000" stroke="#000" stroke-width="0.2" text-anchor="end">−10</text>
<text x="854.00" y="483.80" font-family="'Liberation Sans', sans-serif" font-size="19.2" fill="#0000e8" text-anchor="middle">© vreme.us &amp; vreme.pro</text>
<text x="578.60" y="667.50" font-family="'Liberation Sans', sans-serif" font-size="23.85" fill="#000" text-anchor="middle">Količina padavin (mm) / Možnost padavin (%)</text>
<text x="0" y="0" transform="translate(69.69,692.80) scale(1.0778,1.0550)" font-family="'Liberation Sans', sans-serif" font-size="19.44" fill="#000" stroke="#000" stroke-width="0.2" text-anchor="middle">sre</text>
<text x="0" y="0" transform="translate(69.63,926.50) scale(1.1014,1.0667)" font-family="'Liberation Sans', sans-serif" font-size="23.61" fill="#1161b5" stroke="#1161b5" stroke-width="0.2" text-anchor="middle">100%</text>
<text x="0" y="0" transform="translate(148.23,692.80) scale(1.1525,1.0550)" font-family="'Liberation Sans', sans-serif" font-size="19.44" fill="#000" stroke="#000" stroke-width="0.2" text-anchor="middle">čet</text>
<text x="0" y="0" transform="translate(148.49,926.50) scale(1.0889,1.0671)" font-family="'Liberation Sans', sans-serif" font-size="23.61" fill="#2f8fcc" stroke="#2f8fcc" stroke-width="0.2" text-anchor="middle">15%</text>
<text x="0" y="0" transform="translate(227.19,692.80) scale(1.1585,1.0550)" font-family="'Liberation Sans', sans-serif" font-size="19.44" fill="#000" stroke="#000" stroke-width="0.2" text-anchor="middle">pet</text>
<text x="0" y="0" transform="translate(227.27,926.50) scale(1.0706,1.0667)" font-family="'Liberation Sans', sans-serif" font-size="23.61" fill="#4fd0e2" stroke="#4fd0e2" stroke-width="0.2" text-anchor="middle">0%</text>
<text x="0" y="0" transform="translate(306.19,692.80) scale(1.0763,1.0550)" font-family="'Liberation Sans', sans-serif" font-size="19.44" fill="#000" stroke="#000" stroke-width="0.2" text-anchor="middle">sob</text>
<text x="0" y="0" transform="translate(306.11,926.50) scale(1.0706,1.0667)" font-family="'Liberation Sans', sans-serif" font-size="23.61" fill="#4fd0e2" stroke="#4fd0e2" stroke-width="0.2" text-anchor="middle">0%</text>
<text x="0" y="0" transform="translate(384.87,692.80) scale(1.1052,1.0550)" font-family="'Liberation Sans', sans-serif" font-size="19.44" fill="#000" stroke="#000" stroke-width="0.2" text-anchor="middle">ned</text>
<text x="0" y="0" transform="translate(384.96,926.50) scale(1.0706,1.0667)" font-family="'Liberation Sans', sans-serif" font-size="23.61" fill="#4fd0e2" stroke="#4fd0e2" stroke-width="0.2" text-anchor="middle">0%</text>
<text x="0" y="0" transform="translate(463.78,692.80) scale(1.1069,1.0550)" font-family="'Liberation Sans', sans-serif" font-size="19.44" fill="#000" stroke="#000" stroke-width="0.2" text-anchor="middle">pon</text>
<text x="0" y="0" transform="translate(463.81,926.50) scale(1.0706,1.0667)" font-family="'Liberation Sans', sans-serif" font-size="23.61" fill="#4fd0e2" stroke="#4fd0e2" stroke-width="0.2" text-anchor="middle">0%</text>
<text x="0" y="0" transform="translate(542.88,692.80) scale(1.2162,1.0550)" font-family="'Liberation Sans', sans-serif" font-size="19.44" fill="#000" stroke="#000" stroke-width="0.2" text-anchor="middle">tor</text>
<text x="0" y="0" transform="translate(542.80,926.50) scale(1.0614,1.0671)" font-family="'Liberation Sans', sans-serif" font-size="23.61" fill="#4fcfe2" stroke="#4fcfe2" stroke-width="0.2" text-anchor="middle">5%</text>
<text x="0" y="0" transform="translate(621.61,692.80) scale(1.0778,1.0550)" font-family="'Liberation Sans', sans-serif" font-size="19.44" fill="#000" stroke="#000" stroke-width="0.2" text-anchor="middle">sre</text>
<text x="0" y="0" transform="translate(621.56,926.50) scale(1.0889,1.0667)" font-family="'Liberation Sans', sans-serif" font-size="23.61" fill="#2f9cd6" stroke="#2f9cd6" stroke-width="0.2" text-anchor="middle">10%</text>
<text x="0" y="0" transform="translate(700.16,692.80) scale(1.1525,1.0550)" font-family="'Liberation Sans', sans-serif" font-size="19.44" fill="#000" stroke="#000" stroke-width="0.2" text-anchor="middle">čet</text>
<text x="0" y="0" transform="translate(700.33,926.50) scale(1.0922,1.0667)" font-family="'Liberation Sans', sans-serif" font-size="23.61" fill="#2e9ad4" stroke="#2e9ad4" stroke-width="0.2" text-anchor="middle">20%</text>
<text x="0" y="0" transform="translate(779.12,692.80) scale(1.1585,1.0550)" font-family="'Liberation Sans', sans-serif" font-size="19.44" fill="#000" stroke="#000" stroke-width="0.2" text-anchor="middle">pet</text>
<text x="0" y="0" transform="translate(779.34,926.50) scale(1.0850,1.0542)" font-family="'Liberation Sans', sans-serif" font-size="23.61" fill="#2d97d1" stroke="#2d97d1" stroke-width="0.2" text-anchor="middle">35%</text>
<text x="0" y="0" transform="translate(858.11,692.80) scale(1.0763,1.0550)" font-family="'Liberation Sans', sans-serif" font-size="19.44" fill="#000" stroke="#000" stroke-width="0.2" text-anchor="middle">sob</text>
<text x="0" y="0" transform="translate(858.19,926.50) scale(1.0850,1.0602)" font-family="'Liberation Sans', sans-serif" font-size="23.61" fill="#2b9ad2" stroke="#2b9ad2" stroke-width="0.2" text-anchor="middle">30%</text>
<text x="0" y="0" transform="translate(936.79,692.80) scale(1.1052,1.0550)" font-family="'Liberation Sans', sans-serif" font-size="19.44" fill="#000" stroke="#000" stroke-width="0.2" text-anchor="middle">ned</text>
<text x="0" y="0" transform="translate(937.04,926.50) scale(1.0850,1.0542)" font-family="'Liberation Sans', sans-serif" font-size="23.61" fill="#2d97d1" stroke="#2d97d1" stroke-width="0.2" text-anchor="middle">35%</text>
<text x="0" y="0" transform="translate(1015.70,692.80) scale(1.1069,1.0550)" font-family="'Liberation Sans', sans-serif" font-size="19.44" fill="#000" stroke="#000" stroke-width="0.2" text-anchor="middle">pon</text>
<text x="0" y="0" transform="translate(1015.88,926.50) scale(1.0850,1.0602)" font-family="'Liberation Sans', sans-serif" font-size="23.61" fill="#2b9ad2" stroke="#2b9ad2" stroke-width="0.2" text-anchor="middle">30%</text>
<text x="0" y="0" transform="translate(1094.80,692.80) scale(1.2162,1.0550)" font-family="'Liberation Sans', sans-serif" font-size="19.44" fill="#000" stroke="#000" stroke-width="0.2" text-anchor="middle">tor</text>
<text x="0" y="0" transform="translate(1094.73,926.50) scale(1.0850,1.0602)" font-family="'Liberation Sans', sans-serif" font-size="23.61" fill="#2b9ad2" stroke="#2b9ad2" stroke-width="0.2" text-anchor="middle">30%</text>
<line x1="69.65" x2="1094.5" y1="851.90" y2="851.90" stroke="#000" stroke-opacity="0.16" stroke-width="1.7"/>
<line x1="69.65" x2="1094.5" y1="806.80" y2="806.80" stroke="#000" stroke-opacity="0.16" stroke-width="1.7"/>
<line x1="69.65" x2="1094.5" y1="761.70" y2="761.70" stroke="#000" stroke-opacity="0.16" stroke-width="1.7"/>
<line x1="69.65" x2="1094.5" y1="716.60" y2="716.60" stroke="#000" stroke-opacity="0.16" stroke-width="1.7"/>
<line x1="227.19" x2="227.19" y1="700.5" y2="897.25" stroke="#000" stroke-opacity="0.16" stroke-width="1.7"/>
<line x1="384.88" x2="384.88" y1="700.5" y2="897.25" stroke="#000" stroke-opacity="0.16" stroke-width="1.7"/>
<line x1="542.58" x2="542.58" y1="700.5" y2="897.25" stroke="#000" stroke-opacity="0.16" stroke-width="1.7"/>
<line x1="700.27" x2="700.27" y1="700.5" y2="897.25" stroke="#000" stroke-opacity="0.16" stroke-width="1.7"/>
<line x1="857.96" x2="857.96" y1="700.5" y2="897.25" stroke="#000" stroke-opacity="0.16" stroke-width="1.7"/>
<line x1="1015.65" x2="1015.65" y1="700.5" y2="897.25" stroke="#000" stroke-opacity="0.16" stroke-width="1.7"/>
<rect x="70.9" y="805.9" width="24" height="91.35" fill="#004cff"/>
<rect x="70.2" y="709.0" width="9.5" height="2.75" fill="#7f7f7f"/>
<line x1="137.85" x2="158.85" y1="896.7" y2="896.7" stroke="#222" stroke-width="1.3"/>
<line x1="216.69" x2="237.69" y1="896.7" y2="896.7" stroke="#222" stroke-width="1.3"/>
<line x1="295.54" x2="316.54" y1="896.7" y2="896.7" stroke="#222" stroke-width="1.3"/>
<line x1="374.38" x2="395.38" y1="896.7" y2="896.7" stroke="#222" stroke-width="1.3"/>
<line x1="453.23" x2="474.23" y1="896.7" y2="896.7" stroke="#222" stroke-width="1.3"/>
<line x1="532.08" x2="553.08" y1="896.7" y2="896.7" stroke="#222" stroke-width="1.3"/>
<line x1="610.92" x2="631.92" y1="896.7" y2="896.7" stroke="#222" stroke-width="1.3"/>
<line x1="689.77" x2="710.77" y1="896.7" y2="896.7" stroke="#222" stroke-width="1.3"/>
<line x1="768.62" x2="789.62" y1="896.7" y2="896.7" stroke="#222" stroke-width="1.3"/>
<line x1="847.46" x2="868.46" y1="896.7" y2="896.7" stroke="#222" stroke-width="1.3"/>
<line x1="926.31" x2="947.31" y1="896.7" y2="896.7" stroke="#222" stroke-width="1.3"/>
<line x1="1005.15" x2="1026.15" y1="896.7" y2="896.7" stroke="#222" stroke-width="1.3"/>
<line x1="1084.00" x2="1094.50" y1="896.7" y2="896.7" stroke="#222" stroke-width="1.3"/>
<rect x="69.65" y="700.5" width="1024.8" height="196.75" fill="none" stroke="#1a1a1a" stroke-width="1.1"/>
<text x="0" y="0" transform="translate(65.10,726.00) scale(1.0652,1.0662)" font-family="'Liberation Sans', sans-serif" font-size="19.44" fill="#000" stroke="#000" stroke-width="0.2" text-anchor="end">8</text>
<text x="0" y="0" transform="translate(65.22,770.10) scale(1.0879,1.0662)" font-family="'Liberation Sans', sans-serif" font-size="19.44" fill="#000" stroke="#000" stroke-width="0.2" text-anchor="end">6</text>
<text x="0" y="0" transform="translate(64.97,815.10) scale(1.0505,1.0597)" font-family="'Liberation Sans', sans-serif" font-size="19.44" fill="#000" stroke="#000" stroke-width="0.2" text-anchor="end">4</text>
<text x="0" y="0" transform="translate(64.55,860.50) scale(1.0111,1.0584)" font-family="'Liberation Sans', sans-serif" font-size="19.44" fill="#000" stroke="#000" stroke-width="0.2" text-anchor="end">2</text>
<text x="0" y="0" transform="translate(64.98,893.60) scale(1.0532,1.0662)" font-family="'Liberation Sans', sans-serif" font-size="19.44" fill="#000" stroke="#000" stroke-width="0.2" text-anchor="end">0</text>
</svg>
<div class="h" style="left:10px;top:8px">(kraj lahko izberete v meniju)</div>
<div id="t">Ljubljana 14 dni</div>
<div class="h" style="right:9px;top:8px">Zadnja posodobitev: 24.12.2025 - 10:24</div>
</div></body></html>
